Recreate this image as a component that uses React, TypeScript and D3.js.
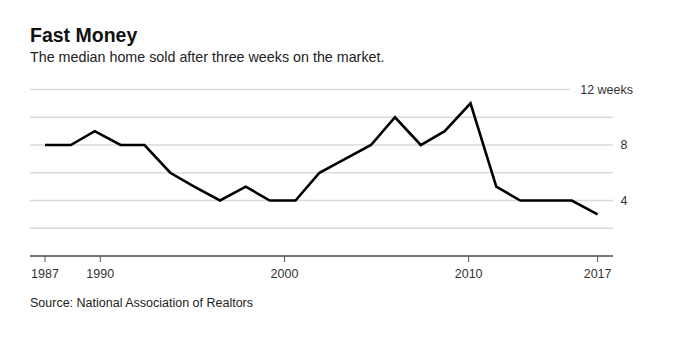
import React from "react";
import * as d3 from "d3";

const years: number[] = [1987, 1988.4, 1989.7, 1991.1, 1992.4, 1993.8, 1995.1, 1996.5, 1997.9, 1999.2, 2000.6, 2001.9, 2003.3, 2004.7, 2006.0, 2007.4, 2008.7, 2010.1, 2011.5, 2012.8, 2014.2, 2015.6, 2017];
const weeks: number[] = [8, 8, 9, 8, 8, 6, 5, 4, 5, 4, 4, 6, 7, 8, 10, 8, 9, 11, 5, 4, 4, 4, 3];
const xTicks: number[] = [1987, 1990, 2000, 2010, 2017];
const gridValues: number[] = [2, 4, 6, 8, 10, 12];
const yLabels: number[] = [4, 8, 12];

const W = 676, H = 342;
const font = "'Liberation Sans', Arial, Helvetica, sans-serif";

export default function App() {
  const x = d3.scaleLinear().domain([1987, 2017]).range([45, 597.6]);
  const y = d3.scaleLinear().domain([0, 12]).range([256, 89.5]);
  const line = d3.line<number>().x((_, i) => x(years[i])).y((d) => y(d));
  const gx0 = 30, gx1 = 613;

  return (
    <svg width={W} height={H} style={{ position: "absolute", left: 0, top: 0, background: "#fff" }} fontFamily={font}>
      <rect width={W} height={H} fill="#fff" />
      <text x={30} y={42} fontSize={19.5} fontWeight="bold" fill="#111">Fast Money</text>
      <text x={30} y={62} fontSize={14.3} fill="#222">The median home sold after three weeks on the market.</text>

      {gridValues.map((v) => (
        <line key={v} x1={gx0} x2={v === 12 ? 570 : gx1} y1={y(v)} y2={y(v)} stroke="#dadada" strokeWidth={1.5} />
      ))}
      {yLabels.map((v) => (
        <text key={v} x={v === 12 ? 633 : 624} y={y(v)} dy="0.35em" textAnchor={v === 12 ? "end" : "middle"} fontSize={12.5} fill="#333">
          {v === 12 ? "12 weeks" : v}
        </text>
      ))}

      <line x1={gx0} x2={gx1} y1={y(0)} y2={y(0)} stroke="#777" strokeWidth={2} />
      {xTicks.map((t) => (
        <g key={t}>
          <line x1={x(t)} x2={x(t)} y1={y(0)} y2={y(0) + 6} stroke="#555" strokeWidth={1} />
          <text x={x(t)} y={278} textAnchor="middle" fontSize={12.5} fill="#333">{t}</text>
        </g>
      ))}

      <path d={line(weeks) || ""} fill="none" stroke="#000" strokeWidth={2.6} strokeLinejoin="miter" />

      <text x={30} y={307} fontSize={12.5} fill="#222">Source: National Association of Realtors</text>
    </svg>
  );
}
